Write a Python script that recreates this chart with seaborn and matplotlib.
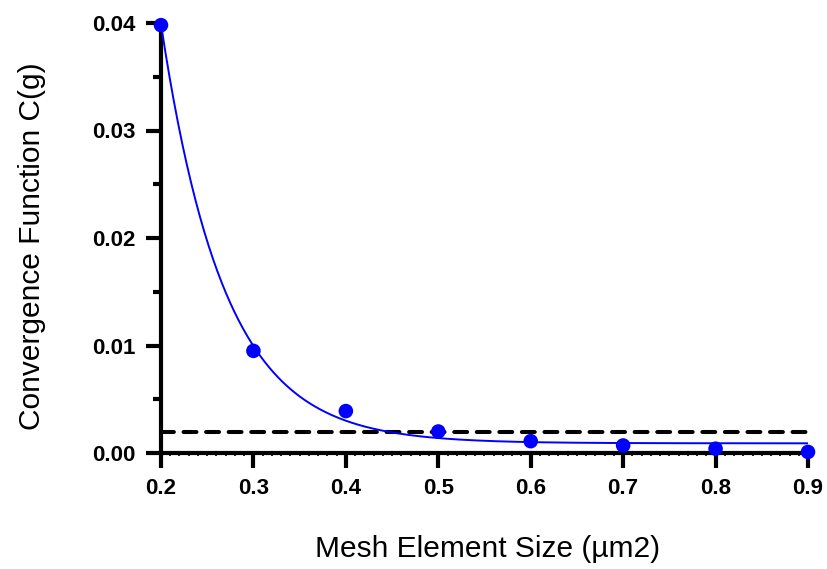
import numpy as np
import matplotlib
matplotlib.use("Agg")
import matplotlib.pyplot as plt
import seaborn as sns
from matplotlib.ticker import MultipleLocator, FormatStrFormatter

# data
mesh_size = [0.2, 0.3, 0.4, 0.5, 0.6, 0.7, 0.8, 0.9]
conv_g = [0.0398, 0.0095, 0.0039, 0.0020, 0.0011, 0.0007, 0.0004, 0.0001]
threshold = 0.002

# one-phase decay fit (parameters)
fit_y0 = 0.0399
fit_plateau = 0.0009
fit_k = 14.6

sns.set_style("ticks", {'axes.edgecolor': 'black', 'xtick.color': 'black',
                        'ytick.color': 'black', 'text.color': 'black',
                        'axes.labelcolor': 'black'})
plt.rcParams['font.family'] = ['Liberation Sans', 'DejaVu Sans']

fig = plt.figure(figsize=(8.28, 5.69), dpi=100)
ax = fig.add_axes([161 / 828, 1 - 453 / 569, 647 / 828, 430 / 569])

x_fit = np.linspace(mesh_size[0], mesh_size[-1], 300)
y_fit = fit_plateau + (fit_y0 - fit_plateau) * np.exp(-fit_k * (x_fit - mesh_size[0]))

ax.plot([mesh_size[0], mesh_size[-1]], [threshold, threshold], color='black',
        lw=2.9, ls=(0, (3.2, 2.4)), dash_capstyle='round', zorder=2, clip_on=False)
sns.lineplot(x=x_fit, y=y_fit, color='#0000ff', lw=1.4, ax=ax, zorder=3)
sns.scatterplot(x=mesh_size, y=conv_g, color='#0000ff', s=110, edgecolor='none',
                ax=ax, zorder=4, clip_on=False)

ax.set_xlim(0.2, 0.9)
ax.set_ylim(0, 0.04)
ax.xaxis.set_major_locator(MultipleLocator(0.1))
ax.xaxis.set_minor_locator(MultipleLocator(0.01))
ax.yaxis.set_major_locator(MultipleLocator(0.01))
ax.yaxis.set_minor_locator(MultipleLocator(0.005))
ax.xaxis.set_major_formatter(FormatStrFormatter('%.1f'))
ax.yaxis.set_major_formatter(FormatStrFormatter('%.2f'))

sns.despine(ax=ax)
for side in ['left', 'bottom']:
    ax.spines[side].set_linewidth(3)
ax.tick_params(which='major', length=11, width=3, labelsize=16)
ax.tick_params(axis='x', which='major', pad=7)
ax.tick_params(axis='y', which='major', pad=7)
ax.tick_params(axis='y', which='minor', length=6, width=3)
ax.tick_params(axis='x', which='minor', length=2, width=1.2)
for lab in ax.get_xticklabels() + ax.get_yticklabels():
    lab.set_fontweight('bold')

ax.set_xlabel('Mesh Element Size (µm2)', fontsize=21.5)
ax.set_ylabel('Convergence Function C(g)', fontsize=21.5)
ax.xaxis.set_label_coords(0.505, -0.19)
ax.yaxis.set_label_coords(-0.177, 0.48)

fig.savefig('out.png', dpi=100)
